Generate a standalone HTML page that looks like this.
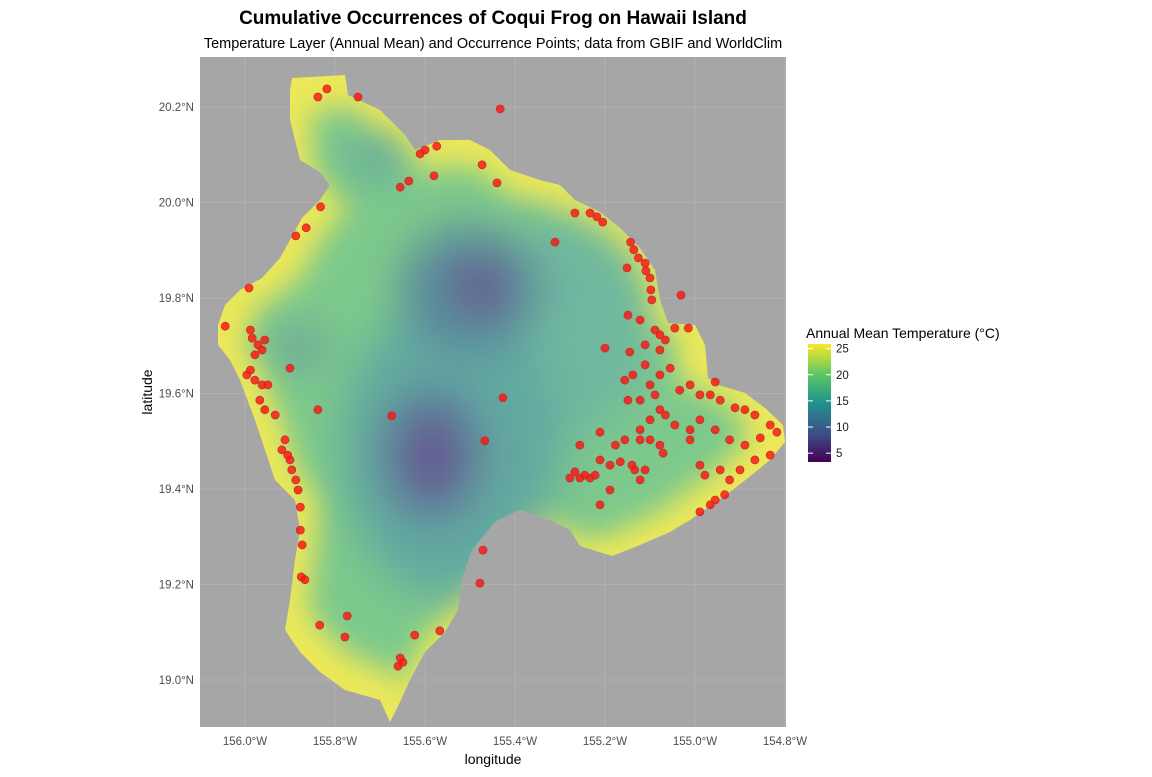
<!DOCTYPE html>
<html><head><meta charset="utf-8">
<style>
body{margin:0;background:#fff;font-family:"Liberation Sans",sans-serif;}
svg text{font-family:"Liberation Sans",sans-serif;}
</style></head>
<body>
<svg id="chart" width="1152" height="772" viewBox="0 0 1152 772">
<defs>
<filter id="b1" x="-50%" y="-50%" width="200%" height="200%"><feGaussianBlur stdDeviation="14"/></filter>
<filter id="b2" x="-50%" y="-50%" width="200%" height="200%"><feGaussianBlur stdDeviation="22"/></filter>
<clipPath id="isl"><polygon id="islpoly"/></clipPath>
<linearGradient id="vir" x1="0" y1="1" x2="0" y2="0">
<stop offset="0" stop-color="#440154"/><stop offset="0.25" stop-color="#3b528b"/><stop offset="0.5" stop-color="#21918c"/><stop offset="0.75" stop-color="#5ec962"/><stop offset="1" stop-color="#fde725"/>
</linearGradient>
</defs>
<text x="493" y="24" text-anchor="middle" font-size="19" font-weight="bold" fill="#000">Cumulative Occurrences of Coqui Frog on Hawaii Island</text>
<text x="493" y="48" text-anchor="middle" font-size="14.5" fill="#000">Temperature Layer (Annual Mean) and Occurrence Points; data from GBIF and WorldClim</text>
<rect x="200" y="57" width="586" height="670" fill="#a6a6a6"/>
<g id="grid"></g>
<g clip-path="url(#isl)">
<rect x="200" y="57" width="586" height="670" fill="#ece859"/>
<polygon id="inner" fill="#7dc98c" filter="url(#b1)"/>
<g filter="url(#b2)">
<ellipse cx="560" cy="330" rx="90" ry="110" fill="#6fb79f"/>
<ellipse cx="450" cy="450" rx="110" ry="150" fill="#62a9a0"/>
<ellipse cx="470" cy="290" rx="70" ry="65" fill="#5a8a9c"/>
<ellipse cx="482" cy="287" rx="30" ry="25" fill="#6a4f8c"/>
<ellipse cx="432" cy="455" rx="50" ry="65" fill="#5e6f9a"/>
<ellipse cx="432" cy="458" rx="22" ry="32" fill="#684f8c"/>
<ellipse cx="375" cy="158" rx="30" ry="18" fill="#5f9fa2"/>
<ellipse cx="300" cy="348" rx="22" ry="18" fill="#628fa2"/>
</g>
</g>
<g id="pts"></g>
<g id="axes" font-size="11.5" fill="#4d4d4d"></g>
<text x="493" y="764" text-anchor="middle" font-size="14" fill="#000">longitude</text>
<text x="152" y="392" text-anchor="middle" font-size="14" fill="#000" transform="rotate(-90 152 392)">latitude</text>
<g>
<text x="806" y="338" font-size="14" fill="#000">Annual Mean Temperature (°C)</text>
<rect x="808" y="344" width="23" height="118" fill="url(#vir)"/>
<g id="legticks"></g>
</g>
</svg>
<script>
const lonTicks=[156.0,155.8,155.6,155.4,155.2,155.0,154.8];
const latTicks=[20.2,20.0,19.8,19.6,19.4,19.2,19.0];
const legendValues=[5,10,15,20,25];
const occLon=[155.838,155.818,155.749,155.433,155.574,155.600,155.611,155.580,155.473,155.440,155.636,155.655,155.832,155.864,155.887,155.991,155.267,155.233,155.218,155.205,155.311,155.143,155.136,155.126,155.111,155.109,155.100,155.151,155.098,155.096,155.031,155.149,155.122,155.089,155.078,155.066,155.045,155.015,155.200,155.145,155.111,155.078,155.111,155.138,155.156,155.100,155.078,155.055,155.149,155.122,155.089,155.078,155.034,155.011,154.989,154.966,154.955,154.944,154.911,154.889,154.867,154.833,154.818,154.855,154.889,154.923,154.955,154.989,155.011,155.045,155.066,155.100,155.122,155.156,155.177,155.211,155.256,155.211,155.189,155.166,155.134,155.111,155.189,155.222,154.989,154.978,154.944,154.923,154.900,154.867,154.833,154.934,154.955,154.966,154.989,155.122,155.011,155.267,155.256,155.245,155.233,155.278,155.211,155.140,155.100,155.071,155.122,155.078,156.044,155.988,155.984,155.971,155.962,155.978,155.956,155.988,155.996,155.978,155.962,155.949,155.967,155.956,155.933,155.911,155.918,155.905,155.900,155.896,155.887,155.882,155.877,155.877,155.873,155.875,155.867,155.900,155.838,155.674,155.467,155.427,155.471,155.478,155.834,155.773,155.778,155.655,155.660,155.649,155.623,155.567];
const occLat=[20.221,20.238,20.221,20.196,20.118,20.110,20.102,20.056,20.079,20.041,20.045,20.032,19.991,19.947,19.930,19.821,19.978,19.978,19.970,19.959,19.917,19.917,19.901,19.884,19.873,19.857,19.842,19.863,19.817,19.796,19.806,19.764,19.754,19.733,19.723,19.712,19.737,19.737,19.695,19.687,19.702,19.691,19.660,19.639,19.628,19.618,19.639,19.653,19.586,19.586,19.597,19.566,19.607,19.618,19.597,19.597,19.624,19.586,19.570,19.566,19.555,19.534,19.519,19.507,19.492,19.503,19.524,19.545,19.524,19.534,19.555,19.545,19.524,19.503,19.492,19.519,19.492,19.461,19.450,19.457,19.440,19.440,19.398,19.429,19.450,19.429,19.440,19.419,19.440,19.461,19.471,19.388,19.377,19.367,19.352,19.419,19.503,19.436,19.423,19.429,19.423,19.423,19.367,19.450,19.503,19.475,19.503,19.492,19.741,19.733,19.716,19.702,19.691,19.681,19.712,19.649,19.639,19.628,19.618,19.618,19.586,19.566,19.555,19.503,19.482,19.471,19.461,19.440,19.419,19.398,19.362,19.314,19.283,19.216,19.210,19.653,19.566,19.553,19.501,19.591,19.272,19.203,19.115,19.134,19.090,19.046,19.029,19.037,19.094,19.103];
const outline=[[292,78],[345,75],[348,95],[380,110],[405,135],[415,150],[440,140],[470,140],[490,150],[510,170],[540,180],[560,185],[575,200],[600,212],[620,228],[640,248],[655,270],[660,300],[668,323],[695,325],[705,345],[708,378],[718,385],[745,393],[765,408],[783,425],[785,442],[770,460],[748,478],[730,492],[710,506],[690,520],[670,532],[640,545],[612,556],[580,546],[570,530],[550,520],[520,510],[495,522],[472,550],[462,580],[458,610],[445,632],[425,652],[410,680],[400,702],[390,722],[380,700],[345,690],[320,672],[300,652],[285,630],[290,600],[295,560],[300,530],[295,500],[275,480],[265,450],[255,420],[240,380],[230,360],[218,345],[218,325],[225,305],[240,290],[262,278],[280,258],[290,240],[302,218],[320,200],[330,185],[320,172],[300,160],[290,120],[290,90]];
const NS='http://www.w3.org/2000/svg';
function xs(lon){return 245+(156.0-lon)/0.2*90;}
function ys(lat){return 107+(20.2-lat)/0.2*95.5;}
function legY(v){return 461-(v-3.5)/22*115;}
document.getElementById('islpoly').setAttribute('points',outline.map(p=>p.join(',')).join(' '));
const cx=470,cy=400;
document.getElementById('inner').setAttribute('points',outline.map(p=>[(cx+(p[0]-cx)*0.88).toFixed(1),(cy+(p[1]-cy)*0.9).toFixed(1)].join(',')).join(' '));
const grid=document.getElementById('grid');
const axes=document.getElementById('axes');
lonTicks.forEach(t=>{
 const x=xs(t);
 const l=document.createElementNS(NS,'line');
 
 
 l.setAttribute('x1',x);l.setAttribute('x2',x);l.setAttribute('y1',57);l.setAttribute('y2',727);
 l.setAttribute('stroke','#b3b3b3');l.setAttribute('stroke-width','0.8');
 grid.appendChild(l);
 const tx=document.createElementNS(NS,'text');
 
 
 tx.setAttribute('x',x);tx.setAttribute('y',745);tx.setAttribute('text-anchor','middle');
 tx.textContent=t.toFixed(1)+'°W';
 axes.appendChild(tx);
});
latTicks.forEach(t=>{
 const y=ys(t);
 const l=document.createElementNS(NS,'line');
 
 
 l.setAttribute('x1',200);l.setAttribute('x2',786);l.setAttribute('y1',y);l.setAttribute('y2',y);
 l.setAttribute('stroke','#b3b3b3');l.setAttribute('stroke-width','0.8');
 grid.appendChild(l);
 const tx=document.createElementNS(NS,'text');
 
 
 tx.setAttribute('x',194);tx.setAttribute('y',y+4);tx.setAttribute('text-anchor','end');
 tx.textContent=t.toFixed(1)+'°N';
 axes.appendChild(tx);
});
const lt=document.getElementById('legticks');
legendValues.forEach(v=>{
 const y=legY(v);
 ['808','826'].forEach(x0=>{
  const l=document.createElementNS(NS,'line');
  
  
  l.setAttribute('x1',x0);l.setAttribute('x2',+x0+5);l.setAttribute('y1',y);l.setAttribute('y2',y);
  l.setAttribute('stroke','#fff');l.setAttribute('stroke-width','1');
  lt.appendChild(l);
 });
 const tx=document.createElementNS(NS,'text');
 
 
 tx.setAttribute('x',836);tx.setAttribute('y',y+4);tx.setAttribute('font-size','11.5');tx.setAttribute('fill','#1a1a1a');
 tx.textContent=v;
 lt.appendChild(tx);
});
const pg=document.getElementById('pts');
occLon.forEach((lon,i)=>{
 const c=document.createElementNS(NS,'circle');
 
 
 c.setAttribute('cx',xs(lon).toFixed(1));c.setAttribute('cy',ys(occLat[i]).toFixed(1));
 c.setAttribute('r','4');c.setAttribute('fill','#ff1010');c.setAttribute('fill-opacity','0.8');
 c.setAttribute('stroke','#c8302a');c.setAttribute('stroke-width','0.8');
 pg.appendChild(c);
});
</script>
</body></html>
